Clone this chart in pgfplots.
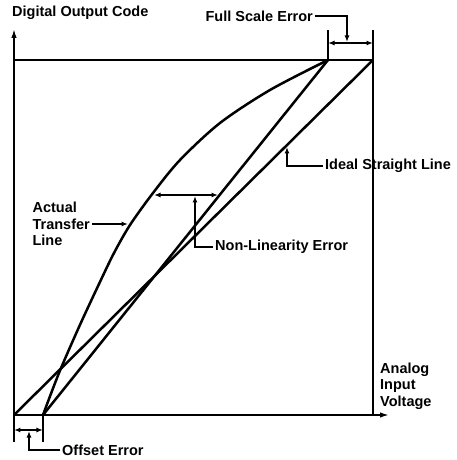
\documentclass[border=0pt]{standalone}
\usepackage{fontspec}
\setmainfont{Liberation Sans}
\usepackage{pgfplots}
\pgfplotsset{compat=1.18}
\usetikzlibrary{arrows.meta}

\begin{document}
\begin{tikzpicture}[
  lbl/.style={font=\fontsize{14.5}{16.5}\selectfont\bfseries, inner sep=0pt},
  ann/.style={line width=1.5pt},
  tip/.style={-{Latex[length=6.5pt,width=5pt]}},
  both/.style={{Latex[length=6.5pt,width=5pt]}-{Latex[length=6.5pt,width=5pt]}},
]
\begin{axis}[x=1pt, y=1pt, scale only axis,
  xmin=0, xmax=359, ymin=0, ymax=355,
  ticks=none, clip=false, axis line style={line width=1.6pt}]

% page size
\path (axis cs:-14,-45) rectangle (axis cs:442,415);

% ideal straight line
\addplot[line width=2.5pt] coordinates {(0,0) (359,355)};
% line with offset and full scale error
\addplot[line width=2.5pt] coordinates {(29,0) (314,355)};
% actual transfer line
\addplot[line width=2.5pt, smooth] coordinates {
  (29,0) (45,42) (65,88) (85,131) (100,162) (116,190)
  (139,222) (166,255) (206,292) (256,325) (314,355)
};

% axis arrows
\draw[line width=1.6pt, -{Latex[length=9pt,width=5.5pt]}] (axis cs:0,350) -- (axis cs:0,386);
\draw[line width=1.6pt, -{Latex[length=9pt,width=5.5pt]}] (axis cs:355,0) -- (axis cs:375,0);

% offset error
\draw[line width=1.6pt] (axis cs:0,0) -- (axis cs:0,-27);
\draw[line width=1.6pt] (axis cs:29,0) -- (axis cs:29,-27);
\draw[ann, both] (axis cs:0,-15) -- (axis cs:29,-15);
\draw[ann, tip] (axis cs:46,-35) -- (axis cs:15,-35) -- (axis cs:15,-16);
\node[lbl, anchor=west] at (axis cs:48,-35) {Offset Error};

% full scale error
\draw[line width=1.6pt] (axis cs:314,355) -- (axis cs:314,385);
\draw[line width=1.6pt] (axis cs:359,355) -- (axis cs:359,385);
\draw[ann, both] (axis cs:314,372) -- (axis cs:359,372);
\draw[ann, tip] (axis cs:301,399) -- (axis cs:333,399) -- (axis cs:333,373);
\node[lbl, anchor=east] at (axis cs:299,399) {Full Scale Error};

% ideal straight line label
\draw[ann, tip] (axis cs:309,249) -- (axis cs:273,249) -- (axis cs:273,268);
\node[lbl, anchor=west] at (axis cs:311,249) {Ideal Straight Line};

% non-linearity error
\draw[ann, both] (axis cs:140,220) -- (axis cs:204,220);
\draw[ann, tip] (axis cs:199,168) -- (axis cs:181,168) -- (axis cs:181,219);
\node[lbl, anchor=west] at (axis cs:201,168) {Non-Linearity Error};

% actual transfer line label
\draw[ann, tip] (axis cs:78,191) -- (axis cs:114,191);
\node[lbl, align=left, anchor=east] at (axis cs:76,191) {Actual\\Transfer\\Line};

% axis titles
\node[lbl, anchor=west] at (axis cs:-2,402) {Digital Output Code};
\node[lbl, align=left, anchor=west] at (axis cs:366,29) {Analog\\Input\\Voltage};
\end{axis}
\end{tikzpicture}
\end{document}
